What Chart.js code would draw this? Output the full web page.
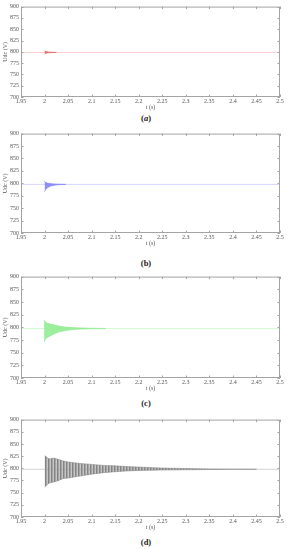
<!DOCTYPE html>
<html>
<head>
<meta charset="utf-8">
<script src="https://cdn.jsdelivr.net/npm/chart.js@4.4.0/dist/chart.umd.min.js"></script>
<style>
  body { margin: 0; background: #fff; width: 289px; height: 550px; position: relative; overflow: hidden; }
  canvas { position: absolute; left: 0; }
  .cap { position: absolute; left: 0; width: 292px; text-align: center; font-family: "Liberation Serif", serif;
         font-weight: bold; font-size: 8.5px; line-height: 10px; color: #222; }
</style>
</head>
<body>
<canvas id="cA" width="289"></canvas>
<canvas id="cB" width="289"></canvas>
<canvas id="cC" width="289"></canvas>
<canvas id="cD" width="289"></canvas>
<div class="cap" id="capA">(<i>a</i>)</div>
<div class="cap" id="capB">(b)</div>
<div class="cap" id="capC">(c)</div>
<div class="cap" id="capD">(d)</div>
<script>
// axis ticks
var xTicks = [1.95, 2, 2.05, 2.1, 2.15, 2.2, 2.25, 2.3, 2.35, 2.4, 2.45, 2.5];
var xTickLabels = ['1.95', '2', '2.05', '2.1', '2.15', '2.2', '2.25', '2.3', '2.35', '2.4', '2.45', '2.5'];
var yTicks = [700, 725, 750, 775, 800, 825, 850, 875, 900];

// steady dc voltage, drawn across the whole window
var steadyT = [1.95, 2.5];
var steadyA = [798.5, 798.5];
var steadyB = [797.8, 797.8];
var steadyC = [797.5, 797.5];
var steadyD = [798, 798];

// oscillation envelopes after the disturbance at t = 2 s
var tA  = [2.0, 2.003, 2.008, 2.015, 2.025];
var upA = [802, 800.5, 799.5, 799, 798.5];
var loA = [795, 797, 797.8, 798.2, 798.5];

var tB  = [2.0, 2.002, 2.006, 2.012, 2.02, 2.03, 2.045];
var upB = [804, 802, 800.5, 799.5, 798.8, 798.3, 797.9];
var loB = [783, 787, 791, 794, 796, 797.2, 797.7];

var tC  = [1.999, 2.0, 2.004, 2.01, 2.02, 2.03, 2.045, 2.06, 2.08, 2.1, 2.13];
var upC = [814, 813, 809, 807, 805, 802.5, 800.5, 799.5, 798.7, 798.2, 797.7];
var loC = [772, 774, 779, 782, 787, 790.5, 793.5, 795.5, 796.6, 797.2, 797.4];

var tD  = [2.0, 2.003, 2.01, 2.02, 2.03, 2.04, 2.05, 2.075, 2.1, 2.125, 2.15, 2.175, 2.2, 2.25, 2.3, 2.35, 2.4, 2.45];
var upD = [826, 824, 819, 821, 818, 815, 813, 810, 808, 806, 805, 803.5, 802.5, 800.5, 799.5, 798.8, 798.3, 798];
var loD = [761, 764, 770, 772, 775, 779, 780, 784, 788, 791, 793, 794.5, 795.5, 796.5, 797, 797.5, 797.8, 798];

function pts(t, v) {
  var out = [];
  for (var i = 0; i < t.length; i++) out.push({ x: t[i], y: v[i] });
  return out;
}

// soft vertical stripes so the dense oscillation looks like the original
function stripes(dark, light) {
  var p = document.createElement('canvas');
  p.width = 3; p.height = 4;
  var c = p.getContext('2d');
  c.fillStyle = light; c.fillRect(0, 0, 3, 4);
  c.fillStyle = dark; c.fillRect(0, 0, 1.5, 4);
  return p.getContext('2d').createPattern(p, 'repeat');
}

// box round the plot plus small inward ticks, like the matlab figure
var framePlugin = {
  id: 'frame',
  afterDatasetsDraw: function (chart) {
    var ctx = chart.ctx, a = chart.chartArea, sx = chart.scales.x, sy = chart.scales.y;
    ctx.save();
    ctx.strokeStyle = '#a4a4a4';
    ctx.lineWidth = 1;
    ctx.strokeRect(a.left + 0.5, a.top + 0.5, a.right - a.left - 1, a.bottom - a.top - 1);
    ctx.beginPath();
    xTicks.forEach(function (v) {
      var x = Math.round(sx.getPixelForValue(v)) + 0.5;
      ctx.moveTo(x, a.top); ctx.lineTo(x, a.top + 2.5);
      ctx.moveTo(x, a.bottom); ctx.lineTo(x, a.bottom - 2.5);
    });
    yTicks.forEach(function (v) {
      var y = Math.round(sy.getPixelForValue(v)) + 0.5;
      ctx.moveTo(a.left, y); ctx.lineTo(a.left + 2.5, y);
      ctx.moveTo(a.right, y); ctx.lineTo(a.right - 2.5, y);
    });
    ctx.stroke();
    ctx.restore();
  }
};

var tickFont = { family: '"Liberation Serif", serif', size: 6 };

function makePanel(id, capId, plotTop, plotBottom, capY, steady, t, up, lo, lineColor, edgeColor, fillColor) {
  var cv = document.getElementById(id);
  var padTop = 4, axisH = 15;
  cv.style.top = (plotTop - padTop) + 'px';
  cv.height = plotBottom - plotTop + padTop + axisH;
  document.getElementById(capId).style.top = (capY - 5) + 'px';

  return new Chart(cv, {
    type: 'line',
    data: {
      datasets: [
        { data: pts(steadyT, steady), borderColor: lineColor, borderWidth: 0.6, pointRadius: 0, fill: false },
        { data: pts(t, up), borderColor: edgeColor, borderWidth: 0.6, pointRadius: 0, fill: false },
        { data: pts(t, lo), borderColor: edgeColor, borderWidth: 0.6, pointRadius: 0, fill: '-1', backgroundColor: fillColor }
      ]
    },
    options: {
      responsive: false,
      animation: false,
      devicePixelRatio: 1,
      layout: { padding: { top: padTop, right: 9, left: 0, bottom: 0 } },
      plugins: { legend: { display: false }, tooltip: { enabled: false } },
      scales: {
        x: {
          type: 'linear', min: 1.95, max: 2.5,
          grid: { display: false, drawTicks: false },
          border: { display: false },
          afterBuildTicks: function (s) { s.ticks = xTicks.map(function (v) { return { value: v }; }); },
          afterFit: function (s) { s.height = axisH; },
          ticks: {
            font: tickFont, color: '#555', padding: 1, maxRotation: 0, autoSkip: false,
            callback: function (v) { return xTickLabels[xTicks.indexOf(v)]; }
          },
          title: { display: true, text: 't (s)', font: tickFont, color: '#555', padding: { top: 0, bottom: 1 } }
        },
        y: {
          min: 700, max: 900,
          grid: { display: false, drawTicks: false },
          border: { display: false },
          afterBuildTicks: function (s) { s.ticks = yTicks.map(function (v) { return { value: v }; }); },
          afterFit: function (s) { s.width = 21; },
          ticks: { font: tickFont, color: '#555', padding: 2 },
          title: { display: true, text: 'Udc (V)', font: tickFont, color: '#555', padding: { top: 2, bottom: 0 } }
        }
      }
    },
    plugins: [framePlugin]
  });
}

makePanel('cA', 'capA', 5, 97, 118, steadyA, tA, upA, loA,
  'rgba(240,120,120,0.6)', 'rgba(210,60,60,0.8)', 'rgba(210,60,60,0.7)');
makePanel('cB', 'capB', 132, 233, 263, steadyB, tB, upB, loB,
  'rgba(140,140,255,0.6)', 'rgba(110,110,245,0.8)', 'rgba(115,115,245,0.8)');
makePanel('cC', 'capC', 275, 378, 403, steadyC, tC, upC, loC,
  'rgba(150,240,150,0.7)', 'rgba(130,230,130,0.85)', 'rgba(140,235,140,0.85)');
makePanel('cD', 'capD', 418, 517, 542, steadyD, tD, upD, loD,
  'rgba(150,150,150,0.7)', 'rgba(120,120,120,0.8)', stripes('rgba(115,115,115,0.8)', 'rgba(175,175,175,0.7)'));
</script>
</body>
</html>
